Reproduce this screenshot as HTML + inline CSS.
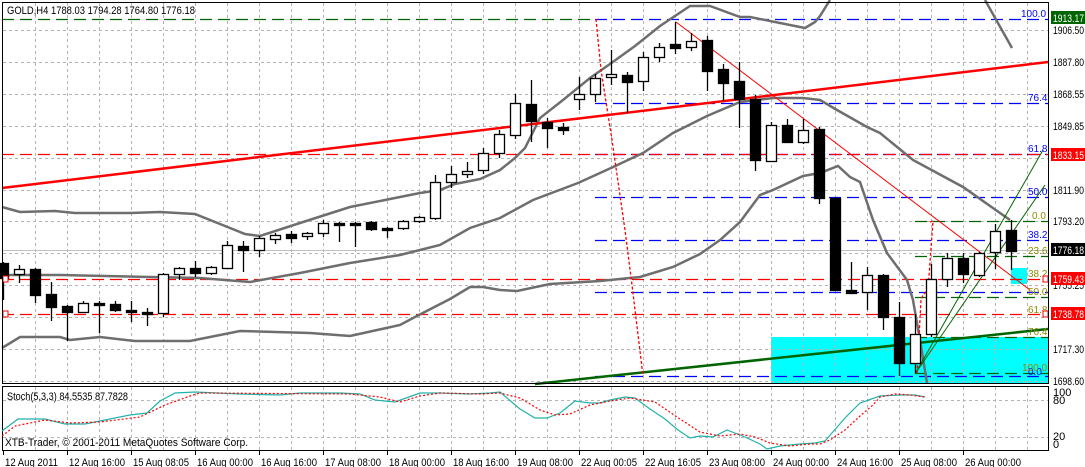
<!DOCTYPE html>
<html><head><meta charset="utf-8"><style>
html,body{margin:0;padding:0;background:#fff;}
svg{display:block;font-family:"Liberation Sans",sans-serif;}
</style></head><body>
<svg id="c" width="1085" height="467" viewBox="0 0 1085 467" xmlns="http://www.w3.org/2000/svg">
<rect width="1085" height="467" fill="#fff"/>
<rect x="771" y="337" width="277" height="47" fill="#00ffff"/>
<rect x="1011" y="268" width="16" height="16" fill="#00ffff"/>
<g id="grid" stroke="#b4b4b4" stroke-width="1" stroke-dasharray="3,3"></g>
<g fill="none" stroke-dasharray="12,6" stroke-width="1.3">
<line x1="2" y1="19.5" x2="595" y2="19.5" stroke="#006400"/>
<line x1="595" y1="19.5" x2="1048" y2="19.5" stroke="#0000ff"/>
<line x1="595" y1="103.5" x2="1048" y2="103.5" stroke="#0000ff"/>
<line x1="595" y1="154.5" x2="1048" y2="154.5" stroke="#0000ff"/>
<line x1="2" y1="154.5" x2="1048" y2="154.5" stroke="#ff0000"/>
<line x1="595" y1="197.5" x2="1048" y2="197.5" stroke="#0000ff"/>
<line x1="595" y1="240.5" x2="1048" y2="240.5" stroke="#0000ff"/>
<line x1="595" y1="292.5" x2="1048" y2="292.5" stroke="#0000ff"/>
<line x1="595" y1="376.5" x2="1048" y2="376.5" stroke="#0000ff"/>
<line x1="2" y1="279.5" x2="1048" y2="279.5" stroke="#ff0000"/>
<line x1="2" y1="314.5" x2="1048" y2="314.5" stroke="#ff0000"/>
<line x1="915" y1="221.5" x2="1048" y2="221.5" stroke="#006400"/>
<line x1="915" y1="256.5" x2="1048" y2="256.5" stroke="#006400"/>
<line x1="915" y1="297.5" x2="1048" y2="297.5" stroke="#006400"/>
<line x1="915" y1="337.5" x2="1048" y2="337.5" stroke="#006400"/>
<line x1="915" y1="373.5" x2="1048" y2="373.5" stroke="#006400"/>
</g>
<line x1="2" y1="250.5" x2="1048" y2="250.5" stroke="#c0c0c0" stroke-width="1"/>
<g fill="none" stroke="#6e6e6e" stroke-width="2.5">
<polyline points="2,207 20,212 55,211 75,213 130,213 160,212 195,214 230,228 245,234 260,236 300,223 350,207 400,197 420,193 440,190 455,184 480,179 500,170 515,158 525,148 540,118 563,100 590,78 610,64 635,46 660,26 690,6 710,6 740,17 750,17 800,27 805,28 815,22 820,16 830,0"/>
<polyline points="985,0 1012,48"/>
<polyline points="2,275 60,275 150,277 200,278 250,282 300,273 350,263 400,255 440,245 470,228 500,218 533,200 578,183 611,168 643,153 673,133 707,116 740,102 773,98 803,98 820,100 837,110 867,127 880,133 913,160 963,187 1010,220"/>
<polyline points="2,348 20,337 60,337 70,340 100,337 135,341 190,341 240,331 310,333 350,336 400,325 415,317 450,299 470,287 483,287 500,290 517,291 550,284 600,281 640,277 673,267 700,254 720,240 740,222 760,195 773,190 803,176 820,173 838,166 850,177 860,182 873,220 887,253 907,280 913,300 920,340 927,383"/>
</g>
<line x1="2" y1="188" x2="1048" y2="62" stroke="#ff0000" stroke-width="2.5"/>
<line x1="535" y1="384" x2="1048" y2="329" stroke="#006400" stroke-width="2.5"/>
<line x1="676" y1="22" x2="1030" y2="290" stroke="#ff0000" stroke-width="1"/>
<line x1="915" y1="374" x2="1043" y2="150" stroke="#006400" stroke-width="1"/>
<line x1="915" y1="374" x2="1045" y2="185" stroke="#006400" stroke-width="1"/>
<polyline points="596,19 601,70 612,140 625,230 632,285 643,376" fill="none" stroke="#ff0000" stroke-width="1.3" stroke-dasharray="3,2"/>
<polyline points="930,222 933,221 928,290 923,295 921,300 917,375" fill="none" stroke="#ff0000" stroke-width="1.3" stroke-dasharray="3,2"/>
<g id="candles"></g>
<g font-size="10" fill="#0000ff">
<text x="1021" y="17">100.0</text>
<text x="1028" y="101">76.4</text>
<text x="1028" y="152">61.8</text>
<text x="1028" y="195">50.0</text>
<text x="1028" y="238">38.2</text>
<text x="1028" y="375">0.0</text>
</g>
<g font-size="10" fill="#8c8c00">
<text x="1032" y="219">0.0</text>
<text x="1028" y="254">23.6</text>
<text x="1028" y="277">38.2</text>
<text x="1028" y="295">50.0</text>
<text x="1028" y="313">61.8</text>
<text x="1028" y="335">76.4</text>
<text x="1022" y="371">100.0</text>
</g>
<rect x="3" y="276" width="5" height="6" fill="#fff" stroke="#ff0000"/>
<rect x="3" y="311" width="5" height="6" fill="#fff" stroke="#ff0000"/>
<rect x="1043" y="276" width="5" height="6" fill="#fff" stroke="#ff0000"/>
<rect x="1043" y="311" width="5" height="6" fill="#fff" stroke="#ff0000"/>
<g fill="none" stroke="#000" stroke-width="1">
<rect x="2.5" y="2.5" width="1046" height="381"/>
<rect x="2.5" y="386.5" width="1046" height="64"/>
</g>
<polyline fill="none" stroke="#20b2aa" stroke-width="1.2" points="2,431 18,419 45,419 65,424 85,424 100,421 130,415 147,413 160,401 175,393 195,392 240,394 280,395 300,393 340,393 360,394 375,400 395,402 420,393 440,393 470,394 490,393 500,392 520,409 535,418 547,418 560,413 575,401 590,403 600,403 610,400 625,397 635,398 650,409 665,419 678,430 690,438 700,436 713,437 727,430 745,437 760,444 767,449 780,446 800,444 815,443 825,441 845,418 860,403 880,396 900,395 915,395 925,397"/>
<polyline fill="none" stroke="#ff0000" stroke-width="1.2" stroke-dasharray="2,2" points="2,436 15,426 45,420 70,423 100,422 140,417 165,405 190,396 200,393 350,394 380,397 400,402 420,396 440,393 480,394 500,393 520,398 540,410 555,415 570,414 590,405 610,401 630,398 655,402 680,419 700,432 720,436 740,434 755,437 770,443 790,446 810,444 820,444 830,440 845,430 860,416 873,405 880,397 895,394 910,395 925,397"/>
<g font-size="11" fill="#000">
<text x="7" y="400" textLength="121" lengthAdjust="spacingAndGlyphs">Stoch(5,3,3) 84.5535 87.7828</text>
<text x="5" y="446" textLength="243" lengthAdjust="spacingAndGlyphs">XTB-Trader, © 2001-2011 MetaQuotes Software Corp.</text>
<text x="7" y="14" textLength="188" lengthAdjust="spacingAndGlyphs">GOLD,H4  1788.03 1794.28 1764.80 1776.18</text>
</g>
<g font-size="11" fill="#000" id="pax">
<text x="1053" y="34" textLength="31" lengthAdjust="spacingAndGlyphs">1906.50</text>
<text x="1053" y="66" textLength="31" lengthAdjust="spacingAndGlyphs">1887.80</text>
<text x="1053" y="98" textLength="31" lengthAdjust="spacingAndGlyphs">1868.55</text>
<text x="1053" y="130" textLength="31" lengthAdjust="spacingAndGlyphs">1849.85</text>
<text x="1053" y="194" textLength="31" lengthAdjust="spacingAndGlyphs">1811.90</text>
<text x="1053" y="225" textLength="31" lengthAdjust="spacingAndGlyphs">1793.20</text>
<text x="1053" y="289" textLength="31" lengthAdjust="spacingAndGlyphs">1755.25</text>
<text x="1053" y="353" textLength="31" lengthAdjust="spacingAndGlyphs">1717.30</text>
<text x="1053" y="385" textLength="31" lengthAdjust="spacingAndGlyphs">1698.60</text>
<text x="1053" y="396">100</text>
<text x="1053" y="404">80</text>
<text x="1053" y="440">20</text>
<text x="1053" y="448">0</text>
</g>
<g font-size="11" fill="#fff">
<rect x="1051" y="11" width="34" height="13" fill="#006400"/><text x="1053" y="22" textLength="31" lengthAdjust="spacingAndGlyphs">1913.17</text>
<rect x="1051" y="148" width="34" height="13" fill="#ff0000"/><text x="1053" y="159" textLength="31" lengthAdjust="spacingAndGlyphs">1833.15</text>
<rect x="1051" y="243" width="34" height="13" fill="#000"/><text x="1053" y="254" textLength="31" lengthAdjust="spacingAndGlyphs">1776.18</text>
<rect x="1051" y="272" width="34" height="13" fill="#ff0000"/><text x="1053" y="283" textLength="31" lengthAdjust="spacingAndGlyphs">1759.43</text>
<rect x="1051" y="307" width="34" height="13" fill="#ff0000"/><text x="1053" y="318" textLength="31" lengthAdjust="spacingAndGlyphs">1738.78</text>
</g>
<g id="time" font-size="11" fill="#000"></g>
</svg>
<script>
var NS="http://www.w3.org/2000/svg";
function el(p,t,a){var e=document.createElementNS(NS,t);for(var k in a)e.setAttribute(k,a[k]);p.appendChild(e);return e;}
var g=document.getElementById('grid');
[30,62,94,126,158,190,221,253,285,317,349,381,400,437].forEach(function(y){el(g,'line',{x1:3,x2:1048,y1:y+.5,y2:y+.5});});
for(var x=35;x<1048;x+=32){el(g,'line',{x1:x+.5,x2:x+.5,y1:3,y2:383});el(g,'line',{x1:x+.5,x2:x+.5,y1:387,y2:450});}
var tl=["12 Aug 2011","12 Aug 16:00","15 Aug 08:05","16 Aug 00:00","16 Aug 16:00","17 Aug 08:00","18 Aug 00:00","18 Aug 16:00","19 Aug 08:00","22 Aug 00:05","22 Aug 16:05","23 Aug 08:00","24 Aug 00:00","24 Aug 16:00","25 Aug 08:00","26 Aug 00:00"];
var tg=document.getElementById('time');
tl.forEach(function(s,i){var x=3+64*i;el(tg,'line',{x1:x+.5,x2:x+.5,y1:451,y2:455,stroke:'#000'});var t=el(tg,'text',{x:x+2,y:466,textLength:(i==0?53:56),lengthAdjust:'spacingAndGlyphs'});t.textContent=s;});
var C=[[263,278,262,300,1],[269,274,265,283,0],[269,295,268,303,1],[294,307,282,321,1],[306,312,305,341,1],[303,312,301,313,0],[303,305,301,333,1],[304,310,301,312,1],[310,312,301,322,1],[312,314,308,326,1],
[274,313,273,317,0],[268,274,267,280,0],[268,273,261,277,1],[267,273,266,275,0],[245,268,241,269,0],[246,250,241,272,1],[238,250,236,257,0],[235,239,233,244,0],[234,238,231,243,1],[233,236,232,240,0],
[223,233,220,237,0],[223,225,222,242,1],[223,225,222,247,1],[222,229,221,231,1],[228,230,227,238,1],[221,228,220,230,0],[217,221,216,223,0],[182,218,175,220,0],[174,182,166,188,0],[171,174,162,178,0],
[153,170,148,174,0],[134,153,130,158,0],[103,135,94,139,0],[104,121,80,142,1],[122,128,118,148,1],[127,130,123,135,1],[94,99,77,110,0],[78,94,74,102,0],[74,77,50,85,0],[75,82,72,113,1],
[57,81,52,91,0],[47,57,43,62,0],[44,48,22,54,1],[41,47,33,51,0],[40,71,36,91,1],[69,83,64,101,1],[81,99,62,128,1],[99,160,95,171,1],[125,161,122,162,0],[125,142,119,143,1],
[130,142,119,144,0],[129,198,127,204,1],[198,290,197,291,1],[290,293,262,294,1],[275,292,267,310,0],[275,317,274,330,1],[317,363,302,376,1],[334,363,314,373,0],[279,334,264,337,0],[258,279,253,287,0],
[258,274,253,283,1],[253,275,252,277,0],[231,252,224,269,0],[230,251,220,270,1]];
var cg=document.getElementById('candles');
C.forEach(function(c,i){var x=3+16*i+.5;
el(cg,'line',{x1:x,x2:x,y1:c[2],y2:c[3],stroke:'#000','stroke-width':1.3});
var h=Math.max(c[1]-c[0],2);
el(cg,'rect',{x:x-5,y:c[0]+.5,width:10,height:h,fill:c[4]?'#000':'#fff',stroke:'#000','stroke-width':1.3});});
</script>
</body></html>
